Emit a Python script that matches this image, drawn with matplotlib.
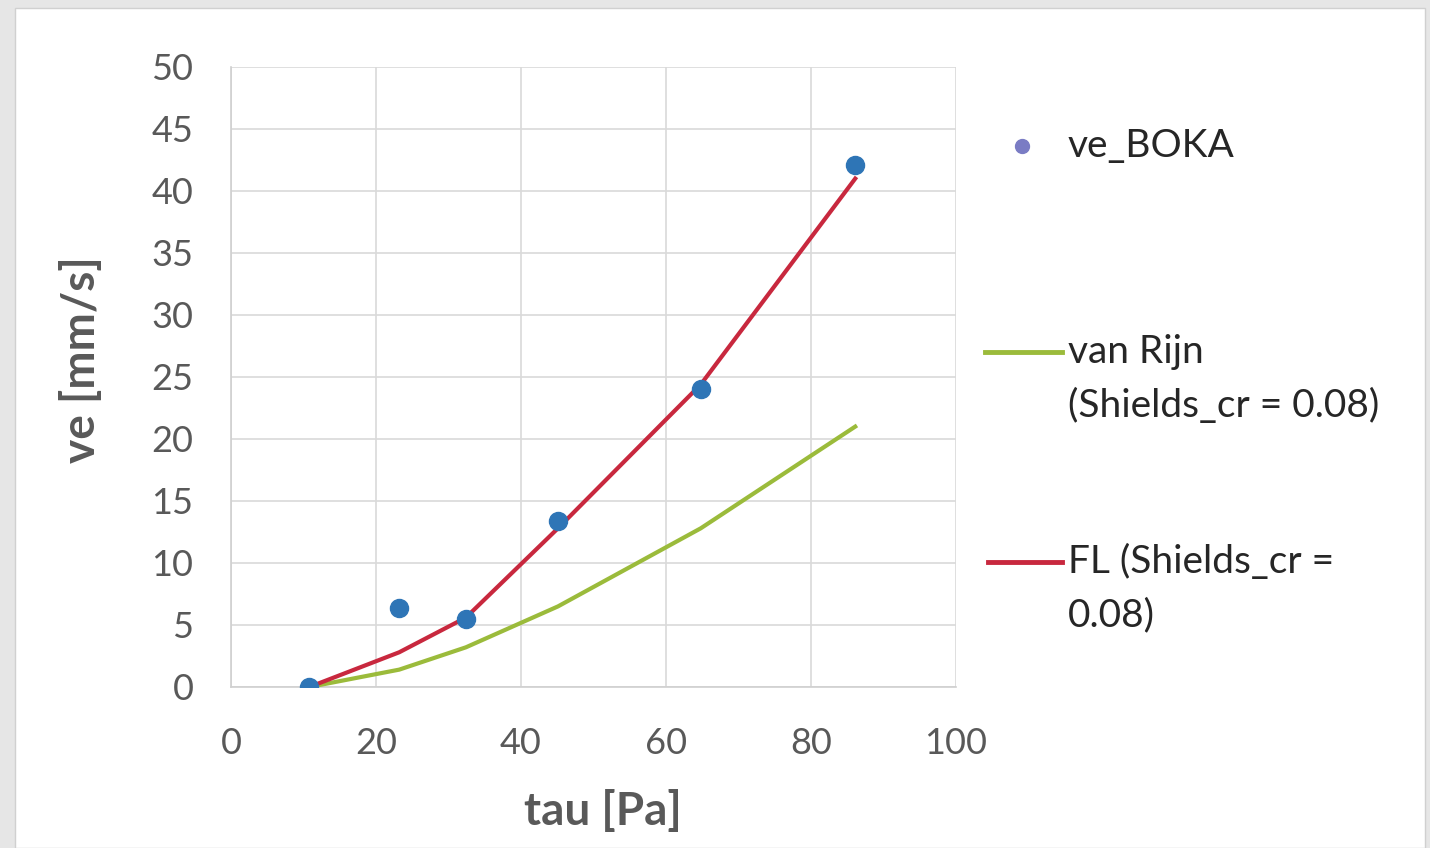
import matplotlib.pyplot as plt
from matplotlib.lines import Line2D
from matplotlib.patches import Rectangle

plt.rcParams['font.family'] = ['Lato', 'DejaVu Sans']

# measured points
tau_obs = [10.8, 23.2, 32.4, 45.1, 64.8, 86.1]
ve_boka = [0.0, 6.4, 5.5, 13.4, 24.0, 42.1]

# model curves
tau_model = [10.8, 23.2, 32.4, 45.1, 64.8, 86.1]
ve_vanrijn = [0.0, 1.4, 3.2, 6.5, 12.8, 21.0]
ve_fl = [0.0, 2.8, 5.6, 12.8, 24.4, 41.0]

xticks = [0, 20, 40, 60, 80, 100]
yticks = [0, 5, 10, 15, 20, 25, 30, 35, 40, 45, 50]

blue = '#2e75b6'
green = '#9bbb3b'
red = '#c8283e'
grey = '#595959'
txt = '#262626'

fig = plt.figure(figsize=(14.3, 8.48), dpi=100)
fig.patch.set_facecolor('#e6e6e6')
fig.add_artist(Rectangle((15 / 1430, 0), 1410 / 1430, 840 / 848,
                         transform=fig.transFigure, facecolor='white',
                         edgecolor='#d0d0d0', lw=1, zorder=0))


def fx(px):
    return px / 1430


def fy(py):
    return 1 - py / 848


ax = fig.add_axes([fx(231), fy(687), 725 / 1430, 620 / 848])
ax.set_facecolor('white')

ax.plot(tau_model, ve_vanrijn, color=green, lw=3, zorder=3)
ax.plot(tau_model, ve_fl, color=red, lw=3, zorder=4)
ax.plot(tau_obs, ve_boka, 'o', color=blue, ms=13, zorder=5)

ax.set_xlim(0, 100)
ax.set_ylim(0, 50)
ax.set_xticks(xticks)
ax.set_yticks(yticks)
ax.grid(True, color='#d9d9d9', lw=1.2)
ax.set_axisbelow(True)
for s in ['top', 'right']:
    ax.spines[s].set_visible(False)
for s in ['left', 'bottom']:
    ax.spines[s].set_color('#d0d0d0')
    ax.spines[s].set_linewidth(1.2)
ax.tick_params(length=0, labelsize=26, colors=grey)
ax.tick_params(axis='x', pad=29)
ax.tick_params(axis='y', pad=27)

# axis titles
fig.text(fx(603), fy(812), 'tau [Pa]', fontsize=33, fontweight='bold',
         color=grey, ha='center', va='center')
fig.text(fx(82), fy(360), 've [mm/s]', fontsize=33, fontweight='bold',
         color=grey, ha='center', va='center', rotation=90)

# legend drawn by hand on the right
fs = 28
fig.add_artist(Line2D([fx(1022)], [fy(146)], marker='o', ms=10,
                      color='#7a7cc4', transform=fig.transFigure))
fig.text(fx(1068), fy(146), 've_BOKA', fontsize=fs, color=txt, va='center')
fig.add_artist(Line2D([fx(985), fx(1062)], [fy(352), fy(352)], color=green,
                      lw=3.5, transform=fig.transFigure))
fig.text(fx(1068), fy(352), 'van Rijn', fontsize=fs, color=txt, va='center')
fig.text(fx(1068), fy(406), '(Shields_cr = 0.08)', fontsize=fs, color=txt, va='center')
fig.add_artist(Line2D([fx(988), fx(1062)], [fy(562), fy(562)], color=red,
                      lw=3.5, transform=fig.transFigure))
fig.text(fx(1068), fy(562), 'FL (Shields_cr =', fontsize=fs, color=txt, va='center')
fig.text(fx(1068), fy(615), '0.08)', fontsize=fs, color=txt, va='center')

fig.savefig('out.png', dpi=100, facecolor=fig.get_facecolor())
